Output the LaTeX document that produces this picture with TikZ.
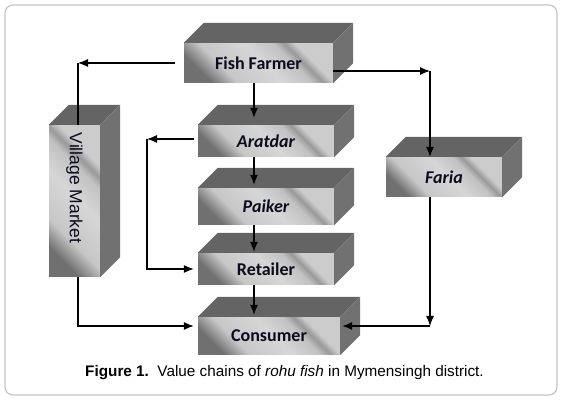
\documentclass[tikz,border=0pt]{standalone}
\usepackage{fontspec}
\setmainfont{Liberation Sans}
\newfontfamily\cali{Carlito}
\usetikzlibrary{arrows.meta}
\definecolor{topgrey}{HTML}{646464}
\definecolor{sidegrey}{HTML}{717171}
\definecolor{framegrey}{HTML}{C4C4C4}
\definecolor{ink}{HTML}{0B0B1E}
\pgfdeclarehorizontalshading{metal}{100bp}{color(0bp)=(black!56); color(25bp)=(black!56); color(35bp)=(black!22); color(52bp)=(black!16); color(63bp)=(black!24); color(67bp)=(black!40); color(71bp)=(black!20); color(75bp)=(black!20); color(100bp)=(black!20)}
\tikzset{
  slab/.style={inner sep=0pt, shading=metal, shading angle=45, text=ink, font=\cali\bfseries\fontsize{18}{21}\selectfont},
  flow/.style={line width=1.1pt, -{Latex[length=10pt, width=8pt]}},
}

\begin{document}
\begin{tikzpicture}[x=1pt, y=1pt]
	\useasboundingbox (0,0) rectangle (562,401);
	\draw[framegrey, line width=1.2pt, rounded corners=8pt](5,6) rectangle (557,396);
	\node[slab, minimum width=149, minimum height=40](farmer) at (258.5,338){Fish Farmer};
	\node[slab, minimum width=136, minimum height=32](aratdar) at (266,260){\itshape Aratdar};
	\node[slab, minimum width=136, minimum height=37](paiker) at (266,194.5){\itshape Paiker};
	\node[slab, minimum width=136, minimum height=32](retailer) at (266,132){Retailer};
	\node[slab, minimum width=142, minimum height=38](consumer) at (269,65){Consumer};
	\node[slab, minimum width=116, minimum height=40](faria) at (444,224){\itshape Faria};
	\node[slab, minimum width=51, minimum height=152, font=\fontsize{17.5}{20}\selectfont](market) at (74.5,200){\rotatebox{-90}{Village Market\hspace*{26pt}}};
	\foreach \n in {farmer, aratdar, paiker, retailer, consumer, faria, market}{
		\fill[topgrey](\n.north west)--++(20,20)--([shift={(20,20)}]\n.north east)--(\n.north east)--cycle;
		\fill[sidegrey](\n.north east)--++(20,20)--([shift={(20,20)}]\n.south east)--(\n.south east)--cycle;
	}
	\coordinate (vmtop) at (78,338);
	\coordinate (vmbot) at (78,75);
	\coordinate (loop) at (147,262);
	\coordinate (down) at (254,0);
	\coordinate (frtop) at (430,330);
	\coordinate (frbot) at (430,75);
	\draw[flow, shorten <=9pt](farmer.west)--(vmtop);
	\draw[line width=1.1pt](vmtop)--(vmtop |- market.north);
	\draw[flow, shorten >=4pt](vmbot |- market.south)--(vmbot)--(vmbot -| consumer.west);
	\draw[flow, shorten <=4pt](aratdar.west |- loop)--(loop);
	\draw[flow, shorten >=4pt](loop)--(loop |- retailer.west)--(retailer.west);
	\draw[flow, shorten >=7pt](down |- farmer.south)--(down |- aratdar.north);
	\draw[flow, shorten >=3pt](down |- aratdar.south)--(down |- paiker.north);
	\draw[flow, shorten >=1pt](down |- paiker.south)--(down |- retailer.north);
	\draw[flow, shorten >=2pt](down |- retailer.south)--(down |- consumer.north);
	\draw[flow](farmer.east |- frtop)--(frtop);
	\draw[flow](frtop)--(frtop |- faria.north);
	\draw[flow](frtop |- faria.south)--(frbot);
	\draw[flow, shorten >=2pt](frbot)--(frbot -| consumer.east);
	\node[font=\fontsize{15.3}{18}\selectfont](caption) at (284.5,28){\textbf{Figure 1.}\ \ Value chains of \textit{rohu fish} in Mymensingh district.};
\end{tikzpicture}
\end{document}
